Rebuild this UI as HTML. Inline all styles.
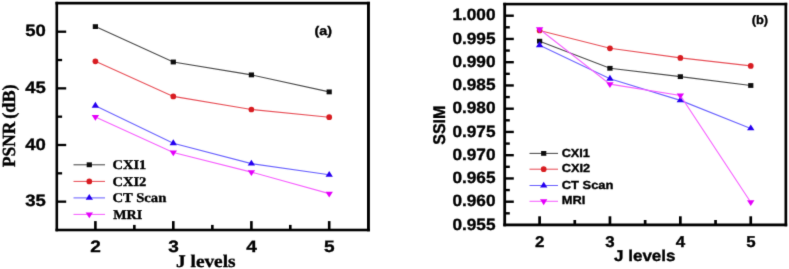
<!DOCTYPE html>
<html><head><meta charset="utf-8"><title>chart</title>
<style>html,body{margin:0;padding:0;background:#fff;}svg{display:block}text{fill:#000;stroke:#000;stroke-width:0.35px;text-rendering:geometricPrecision}</style></head>
<body><svg width="789" height="269" viewBox="0 0 789 269">
<defs><filter id="soft" x="0" y="0" width="789" height="269" filterUnits="userSpaceOnUse"><feConvolveMatrix order="3" kernelMatrix="0.01134 0.08382 0.01134 0.08382 0.61935 0.08382 0.01134 0.08382 0.01134" edgeMode="duplicate" preserveAlpha="false"/></filter></defs>
<rect width="789" height="269" fill="#fff"/>
<g filter="url(#soft)">
<rect x="55.5" y="1.8" width="2.60" height="229.50" fill="#000"/>
<rect x="367.0" y="1.8" width="2.90" height="229.50" fill="#000"/>
<rect x="55.5" y="1.8" width="314.40" height="2.70" fill="#000"/>
<rect x="55.5" y="228.7" width="314.40" height="2.60" fill="#000"/>
<rect x="57" y="30.55" width="9.20" height="2.3" fill="#000"/>
<text x="45.9" y="36.4" font-family="'Liberation Sans', sans-serif" font-weight="bold" font-size="16.4" text-anchor="end" textLength="20.6" lengthAdjust="spacingAndGlyphs" >50</text>
<rect x="57" y="87.20" width="9.20" height="2.3" fill="#000"/>
<text x="45.9" y="93.05" font-family="'Liberation Sans', sans-serif" font-weight="bold" font-size="16.4" text-anchor="end" textLength="20.6" lengthAdjust="spacingAndGlyphs" >45</text>
<rect x="57" y="143.85" width="9.20" height="2.3" fill="#000"/>
<text x="45.9" y="149.7" font-family="'Liberation Sans', sans-serif" font-weight="bold" font-size="16.4" text-anchor="end" textLength="20.6" lengthAdjust="spacingAndGlyphs" >40</text>
<rect x="57" y="200.50" width="9.20" height="2.3" fill="#000"/>
<text x="45.9" y="206.34999999999997" font-family="'Liberation Sans', sans-serif" font-weight="bold" font-size="16.4" text-anchor="end" textLength="20.6" lengthAdjust="spacingAndGlyphs" >35</text>
<rect x="57" y="58.88" width="5.10" height="2.3" fill="#000"/>
<rect x="57" y="115.52" width="5.10" height="2.3" fill="#000"/>
<rect x="57" y="172.17" width="5.10" height="2.3" fill="#000"/>
<rect x="94.10" y="221.1" width="2.6" height="7.90" fill="#000"/>
<text x="95.60000000000001" y="252.4" font-family="'Liberation Sans', sans-serif" font-weight="bold" font-size="16.5" text-anchor="middle" textLength="10.6" lengthAdjust="spacingAndGlyphs" >2</text>
<rect x="172.00" y="221.1" width="2.6" height="7.90" fill="#000"/>
<text x="173.5" y="252.4" font-family="'Liberation Sans', sans-serif" font-weight="bold" font-size="16.5" text-anchor="middle" textLength="10.6" lengthAdjust="spacingAndGlyphs" >3</text>
<rect x="250.10" y="221.1" width="2.6" height="7.90" fill="#000"/>
<text x="251.6" y="252.4" font-family="'Liberation Sans', sans-serif" font-weight="bold" font-size="16.5" text-anchor="middle" textLength="10.6" lengthAdjust="spacingAndGlyphs" >4</text>
<rect x="327.90" y="221.1" width="2.6" height="7.90" fill="#000"/>
<text x="329.4" y="252.4" font-family="'Liberation Sans', sans-serif" font-weight="bold" font-size="16.5" text-anchor="middle" textLength="10.6" lengthAdjust="spacingAndGlyphs" >5</text>
<rect x="133.05" y="224.9" width="2.6" height="4.10" fill="#000"/>
<rect x="211.05" y="224.9" width="2.6" height="4.10" fill="#000"/>
<rect x="289.00" y="224.9" width="2.6" height="4.10" fill="#000"/>
<text x="205.8" y="267" font-family="'Liberation Serif', serif" font-weight="bold" font-size="17.8" text-anchor="middle" textLength="59.5" lengthAdjust="spacingAndGlyphs" >J levels</text>
<text x="0" y="0" font-family="'Liberation Serif', serif" font-weight="bold" font-size="17" text-anchor="start" textLength="45.3" lengthAdjust="spacingAndGlyphs" transform="translate(15.4,167.1) rotate(-90) scale(1,1.09)">PSNR</text>
<text x="0" y="0" font-family="'Liberation Serif', serif" font-weight="bold" font-size="17" text-anchor="start" textLength="34.5" lengthAdjust="spacingAndGlyphs" transform="translate(15.4,118.8) rotate(-90) scale(1,1.09)">(dB)</text>
<text x="323.3" y="34.5" font-family="'Liberation Sans', sans-serif" font-weight="bold" font-size="12.5" text-anchor="middle" textLength="17.5" lengthAdjust="spacingAndGlyphs" >(a)</text>
<polyline points="95.40,26.60 173.30,62.00 251.40,74.90 329.20,91.90" fill="none" stroke="#4a4a4a" stroke-width="1.12"/>
<polyline points="95.40,61.30 173.30,96.40 251.40,109.50 329.20,117.20" fill="none" stroke="#e85058" stroke-width="1.12"/>
<polyline points="95.40,105.70 173.30,143.20 251.40,163.60 329.20,174.80" fill="none" stroke="#6a62ff" stroke-width="1.12"/>
<polyline points="95.40,117.00 173.30,152.50 251.40,172.10 329.20,193.60" fill="none" stroke="#f660ff" stroke-width="1.12"/>
<rect x="92.80" y="24.20" width="5.20" height="4.80" fill="#0a0a0a"/>
<rect x="170.70" y="59.60" width="5.20" height="4.80" fill="#0a0a0a"/>
<rect x="248.80" y="72.50" width="5.20" height="4.80" fill="#0a0a0a"/>
<rect x="326.60" y="89.50" width="5.20" height="4.80" fill="#0a0a0a"/>
<circle cx="95.40" cy="61.30" r="2.85" fill="#d81c20"/>
<circle cx="173.30" cy="96.40" r="2.85" fill="#d81c20"/>
<circle cx="251.40" cy="109.50" r="2.85" fill="#d81c20"/>
<circle cx="329.20" cy="117.20" r="2.85" fill="#d81c20"/>
<path d="M91.70 107.63L99.10 107.63L95.40 101.83Z" fill="#2606f0"/>
<path d="M169.60 145.13L177.00 145.13L173.30 139.33Z" fill="#2606f0"/>
<path d="M247.70 165.53L255.10 165.53L251.40 159.73Z" fill="#2606f0"/>
<path d="M325.50 176.73L332.90 176.73L329.20 170.93Z" fill="#2606f0"/>
<path d="M91.70 115.07L99.10 115.07L95.40 120.87Z" fill="#e406fa"/>
<path d="M169.60 150.57L177.00 150.57L173.30 156.37Z" fill="#e406fa"/>
<path d="M247.70 170.17L255.10 170.17L251.40 175.97Z" fill="#e406fa"/>
<path d="M325.50 191.67L332.90 191.67L329.20 197.47Z" fill="#e406fa"/>
<polyline points="73.50,164.80 105.00,164.80" fill="none" stroke="#4a4a4a" stroke-width="1.05"/>
<rect x="86.70" y="162.40" width="5.20" height="4.80" fill="#0a0a0a"/>
<text x="112.5" y="169.4" font-family="'Liberation Serif', serif" font-weight="bold" font-size="13.4" text-anchor="start" textLength="33.8" lengthAdjust="spacingAndGlyphs" >CXI1</text>
<polyline points="73.50,181.40 105.00,181.40" fill="none" stroke="#e85058" stroke-width="1.05"/>
<circle cx="89.30" cy="181.40" r="2.85" fill="#d81c20"/>
<text x="112.5" y="186.05" font-family="'Liberation Serif', serif" font-weight="bold" font-size="13.4" text-anchor="start" textLength="33.8" lengthAdjust="spacingAndGlyphs" >CXI2</text>
<polyline points="73.50,197.90 105.00,197.90" fill="none" stroke="#6a62ff" stroke-width="1.05"/>
<path d="M85.60 199.83L93.00 199.83L89.30 194.03Z" fill="#2606f0"/>
<text x="112.5" y="201.70000000000002" font-family="'Liberation Serif', serif" font-weight="bold" font-size="13.4" text-anchor="start" textLength="53.8" lengthAdjust="spacingAndGlyphs" >CT Scan</text>
<polyline points="73.50,214.40 105.00,214.40" fill="none" stroke="#f660ff" stroke-width="1.05"/>
<path d="M85.60 212.47L93.00 212.47L89.30 218.27Z" fill="#e406fa"/>
<text x="113.3" y="218.70000000000002" font-family="'Liberation Serif', serif" font-weight="bold" font-size="13.4" text-anchor="start" textLength="28.9" lengthAdjust="spacingAndGlyphs" >MRI</text>
<rect x="503.3" y="2.8" width="2.80" height="223.50" fill="#000"/>
<rect x="784.5" y="2.8" width="2.70" height="223.50" fill="#000"/>
<rect x="503.3" y="2.8" width="283.90" height="2.60" fill="#000"/>
<rect x="503.3" y="223.5" width="283.90" height="2.80" fill="#000"/>
<rect x="505" y="14.50" width="8.80" height="2.4" fill="#000"/>
<text x="495.5" y="20.4" font-family="'Liberation Sans', sans-serif" font-weight="bold" font-size="16.3" text-anchor="end" textLength="43.1" lengthAdjust="spacingAndGlyphs" >1.000</text>
<rect x="505" y="26.12" width="4.80" height="2.4" fill="#000"/>
<rect x="505" y="37.75" width="8.80" height="2.4" fill="#000"/>
<text x="495.5" y="43.65000000000002" font-family="'Liberation Sans', sans-serif" font-weight="bold" font-size="16.3" text-anchor="end" textLength="43.1" lengthAdjust="spacingAndGlyphs" >0.995</text>
<rect x="505" y="49.37" width="4.80" height="2.4" fill="#000"/>
<rect x="505" y="61.00" width="8.80" height="2.4" fill="#000"/>
<text x="495.5" y="66.90000000000005" font-family="'Liberation Sans', sans-serif" font-weight="bold" font-size="16.3" text-anchor="end" textLength="43.1" lengthAdjust="spacingAndGlyphs" >0.990</text>
<rect x="505" y="72.62" width="4.80" height="2.4" fill="#000"/>
<rect x="505" y="84.25" width="8.80" height="2.4" fill="#000"/>
<text x="495.5" y="90.15000000000006" font-family="'Liberation Sans', sans-serif" font-weight="bold" font-size="16.3" text-anchor="end" textLength="43.1" lengthAdjust="spacingAndGlyphs" >0.985</text>
<rect x="505" y="95.87" width="4.80" height="2.4" fill="#000"/>
<rect x="505" y="107.50" width="8.80" height="2.4" fill="#000"/>
<text x="495.5" y="113.40000000000009" font-family="'Liberation Sans', sans-serif" font-weight="bold" font-size="16.3" text-anchor="end" textLength="43.1" lengthAdjust="spacingAndGlyphs" >0.980</text>
<rect x="505" y="119.12" width="4.80" height="2.4" fill="#000"/>
<rect x="505" y="130.75" width="8.80" height="2.4" fill="#000"/>
<text x="495.5" y="136.6500000000001" font-family="'Liberation Sans', sans-serif" font-weight="bold" font-size="16.3" text-anchor="end" textLength="43.1" lengthAdjust="spacingAndGlyphs" >0.975</text>
<rect x="505" y="142.37" width="4.80" height="2.4" fill="#000"/>
<rect x="505" y="154.00" width="8.80" height="2.4" fill="#000"/>
<text x="495.5" y="159.9000000000001" font-family="'Liberation Sans', sans-serif" font-weight="bold" font-size="16.3" text-anchor="end" textLength="43.1" lengthAdjust="spacingAndGlyphs" >0.970</text>
<rect x="505" y="165.62" width="4.80" height="2.4" fill="#000"/>
<rect x="505" y="177.25" width="8.80" height="2.4" fill="#000"/>
<text x="495.5" y="183.15000000000012" font-family="'Liberation Sans', sans-serif" font-weight="bold" font-size="16.3" text-anchor="end" textLength="43.1" lengthAdjust="spacingAndGlyphs" >0.965</text>
<rect x="505" y="188.87" width="4.80" height="2.4" fill="#000"/>
<rect x="505" y="200.50" width="8.80" height="2.4" fill="#000"/>
<text x="495.5" y="206.40000000000015" font-family="'Liberation Sans', sans-serif" font-weight="bold" font-size="16.3" text-anchor="end" textLength="43.1" lengthAdjust="spacingAndGlyphs" >0.960</text>
<rect x="505" y="212.12" width="4.80" height="2.4" fill="#000"/>
<text x="495.5" y="229.65000000000015" font-family="'Liberation Sans', sans-serif" font-weight="bold" font-size="16.3" text-anchor="end" textLength="43.1" lengthAdjust="spacingAndGlyphs" >0.955</text>
<rect x="538.25" y="216.3" width="2.7" height="7.70" fill="#000"/>
<text x="539.7" y="246.5" font-family="'Liberation Sans', sans-serif" font-weight="bold" font-size="15.6" text-anchor="middle" textLength="9.4" lengthAdjust="spacingAndGlyphs" >2</text>
<rect x="608.60" y="216.3" width="2.7" height="7.70" fill="#000"/>
<text x="610.0500000000001" y="246.5" font-family="'Liberation Sans', sans-serif" font-weight="bold" font-size="15.6" text-anchor="middle" textLength="9.4" lengthAdjust="spacingAndGlyphs" >3</text>
<rect x="679.00" y="216.3" width="2.7" height="7.70" fill="#000"/>
<text x="680.45" y="246.5" font-family="'Liberation Sans', sans-serif" font-weight="bold" font-size="15.6" text-anchor="middle" textLength="9.4" lengthAdjust="spacingAndGlyphs" >4</text>
<rect x="749.40" y="216.3" width="2.7" height="7.70" fill="#000"/>
<text x="750.85" y="246.5" font-family="'Liberation Sans', sans-serif" font-weight="bold" font-size="15.6" text-anchor="middle" textLength="9.4" lengthAdjust="spacingAndGlyphs" >5</text>
<rect x="573.43" y="220.0" width="2.7" height="4.00" fill="#000"/>
<rect x="643.80" y="220.0" width="2.7" height="4.00" fill="#000"/>
<rect x="714.20" y="220.0" width="2.7" height="4.00" fill="#000"/>
<text x="644.75" y="260.9" font-family="'Liberation Sans', sans-serif" font-weight="bold" font-size="15.7" text-anchor="middle" textLength="61.5" lengthAdjust="spacingAndGlyphs" >J levels</text>
<text x="0" y="0" font-family="'Liberation Sans', sans-serif" font-weight="bold" font-size="15.5" text-anchor="start" textLength="39.2" lengthAdjust="spacingAndGlyphs" transform="translate(445.3,144.8) rotate(-90) scale(1,1.09)">SSIM</text>
<text x="759.9" y="24.4" font-family="'Liberation Sans', sans-serif" font-weight="bold" font-size="12.0" text-anchor="middle" textLength="16.4" lengthAdjust="spacingAndGlyphs" >(b)</text>
<polyline points="539.60,41.20 609.95,68.30 680.35,76.65 750.75,85.50" fill="none" stroke="#4a4a4a" stroke-width="1.12"/>
<polyline points="539.60,30.50 609.95,48.30 680.35,57.90 750.75,65.90" fill="none" stroke="#e85058" stroke-width="1.12"/>
<polyline points="539.60,45.30 609.95,78.70 680.35,100.40 750.75,128.40" fill="none" stroke="#6a62ff" stroke-width="1.12"/>
<polyline points="539.60,29.20 609.95,84.10 680.35,95.40 750.75,202.20" fill="none" stroke="#f660ff" stroke-width="1.12"/>
<rect x="537.00" y="38.80" width="5.20" height="4.80" fill="#0a0a0a"/>
<rect x="607.35" y="65.90" width="5.20" height="4.80" fill="#0a0a0a"/>
<rect x="677.75" y="74.25" width="5.20" height="4.80" fill="#0a0a0a"/>
<rect x="748.15" y="83.10" width="5.20" height="4.80" fill="#0a0a0a"/>
<circle cx="539.60" cy="30.50" r="2.85" fill="#d81c20"/>
<circle cx="609.95" cy="48.30" r="2.85" fill="#d81c20"/>
<circle cx="680.35" cy="57.90" r="2.85" fill="#d81c20"/>
<circle cx="750.75" cy="65.90" r="2.85" fill="#d81c20"/>
<path d="M535.90 47.23L543.30 47.23L539.60 41.43Z" fill="#2606f0"/>
<path d="M606.25 80.63L613.65 80.63L609.95 74.83Z" fill="#2606f0"/>
<path d="M676.65 102.33L684.05 102.33L680.35 96.53Z" fill="#2606f0"/>
<path d="M747.05 130.33L754.45 130.33L750.75 124.53Z" fill="#2606f0"/>
<path d="M535.90 27.27L543.30 27.27L539.60 33.07Z" fill="#e406fa"/>
<path d="M606.25 82.17L613.65 82.17L609.95 87.97Z" fill="#e406fa"/>
<path d="M676.65 93.47L684.05 93.47L680.35 99.27Z" fill="#e406fa"/>
<path d="M747.05 200.27L754.45 200.27L750.75 206.07Z" fill="#e406fa"/>
<polyline points="529.50,153.40 558.00,153.40" fill="none" stroke="#4a4a4a" stroke-width="1.05"/>
<rect x="541.10" y="151.00" width="5.20" height="4.80" fill="#0a0a0a"/>
<text x="561.7" y="156.55" font-family="'Liberation Sans', sans-serif" font-weight="bold" font-size="11.7" text-anchor="start" textLength="28.2" lengthAdjust="spacingAndGlyphs" >CXI1</text>
<polyline points="529.50,169.20 558.00,169.20" fill="none" stroke="#e85058" stroke-width="1.05"/>
<circle cx="543.70" cy="169.20" r="2.85" fill="#d81c20"/>
<text x="561.7" y="172.35" font-family="'Liberation Sans', sans-serif" font-weight="bold" font-size="11.7" text-anchor="start" textLength="28.4" lengthAdjust="spacingAndGlyphs" >CXI2</text>
<polyline points="529.50,185.50 558.00,185.50" fill="none" stroke="#6a62ff" stroke-width="1.05"/>
<path d="M540.00 187.43L547.40 187.43L543.70 181.63Z" fill="#2606f0"/>
<text x="561.7" y="188.65" font-family="'Liberation Sans', sans-serif" font-weight="bold" font-size="11.7" text-anchor="start" textLength="51.8" lengthAdjust="spacingAndGlyphs" >CT Scan</text>
<polyline points="529.50,201.30 558.00,201.30" fill="none" stroke="#f660ff" stroke-width="1.05"/>
<path d="M540.00 199.37L547.40 199.37L543.70 205.17Z" fill="#e406fa"/>
<text x="561.7" y="204.45000000000002" font-family="'Liberation Sans', sans-serif" font-weight="bold" font-size="11.7" text-anchor="start" textLength="23.6" lengthAdjust="spacingAndGlyphs" >MRI</text>
</g>
</svg></body></html>
